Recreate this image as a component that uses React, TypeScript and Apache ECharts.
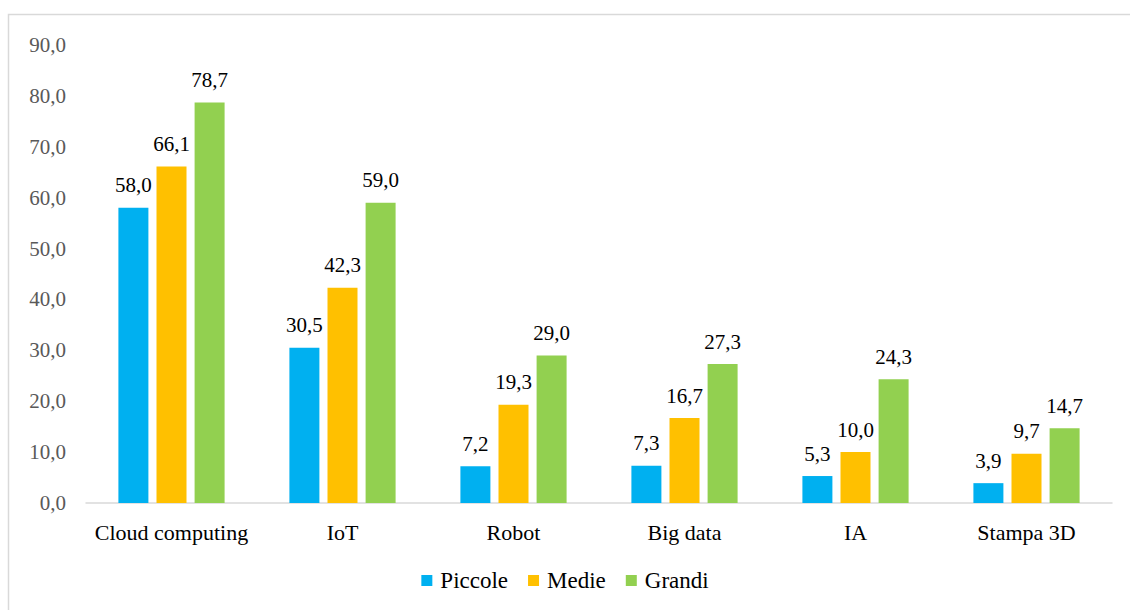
import React, { useEffect, useRef } from "react";
import * as echarts from "echarts";

const categories = ["Cloud computing", "IoT", "Robot", "Big data", "IA", "Stampa 3D"];
const piccole = [58.0, 30.5, 7.2, 7.3, 5.3, 3.9];
const medie = [66.1, 42.3, 19.3, 16.7, 10.0, 9.7];
const grandi = [78.7, 59.0, 29.0, 27.3, 24.3, 14.7];
const seriesNames = ["Piccole", "Medie", "Grandi"];
const colors = ["#00b0f0", "#ffc000", "#92d050"];

const FONT = "Times New Roman, Liberation Serif, DejaVu Serif, serif";
const fmt = (v: number) => v.toFixed(1).replace(".", ",");

export default function App() {
  const ref = useRef<HTMLDivElement>(null);
  useEffect(() => {
    const chart = echarts.init(ref.current!, undefined, { renderer: "svg" });
    const mk = (name: string, data: number[], color: string) => ({
      name,
      type: "bar",
      data,
      barWidth: 30,
      barGap: "27%",
      itemStyle: { color },
      label: {
        show: true,
        position: "top",
        distance: 12,
        formatter: (p: any) => fmt(p.value),
        fontFamily: FONT,
        fontSize: 21,
        color: "#000",
      },
    });
    chart.setOption({
      animation: false,
      backgroundColor: "#fff",
      graphic: [
        {
          type: "rect",
          shape: { x: 8.5, y: 14.5, width: 1140, height: 620 },
          style: { fill: "none", stroke: "#d9d9d9", lineWidth: 1.5 },
          silent: true,
        },
      ],
      grid: { left: 86, right: 18, top: 45, bottom: 107 },
      legend: {
        bottom: 13,
        left: "center",
        itemWidth: 11,
        itemHeight: 11,
        itemGap: 20,
        icon: "rect",
        textStyle: { fontFamily: FONT, fontSize: 23, color: "#000", padding: [0, 0, 0, 3] },
        data: seriesNames,
      },
      xAxis: {
        type: "category",
        data: categories,
        axisLine: { lineStyle: { color: "#d9d9d9", width: 1.5 } },
        axisTick: { show: false },
        axisLabel: { fontFamily: FONT, fontSize: 22, color: "#000", margin: 18, interval: 0 },
      },
      yAxis: {
        type: "value",
        min: 0,
        max: 90,
        interval: 10,
        splitLine: { show: false },
        axisLine: { show: false },
        axisTick: { show: false },
        axisLabel: {
          fontFamily: FONT,
          fontSize: 21,
          color: "#595959",
          margin: 20,
          formatter: (v: number) => fmt(v),
        },
      },
      series: [
        mk(seriesNames[0], piccole, colors[0]),
        mk(seriesNames[1], medie, colors[1]),
        mk(seriesNames[2], grandi, colors[2]),
      ],
    });
    return () => chart.dispose();
  }, []);
  return (
    <div
      ref={ref}
      style={{ position: "fixed", left: 0, top: 0, width: 1130, height: 610 }}
    />
  );
}
